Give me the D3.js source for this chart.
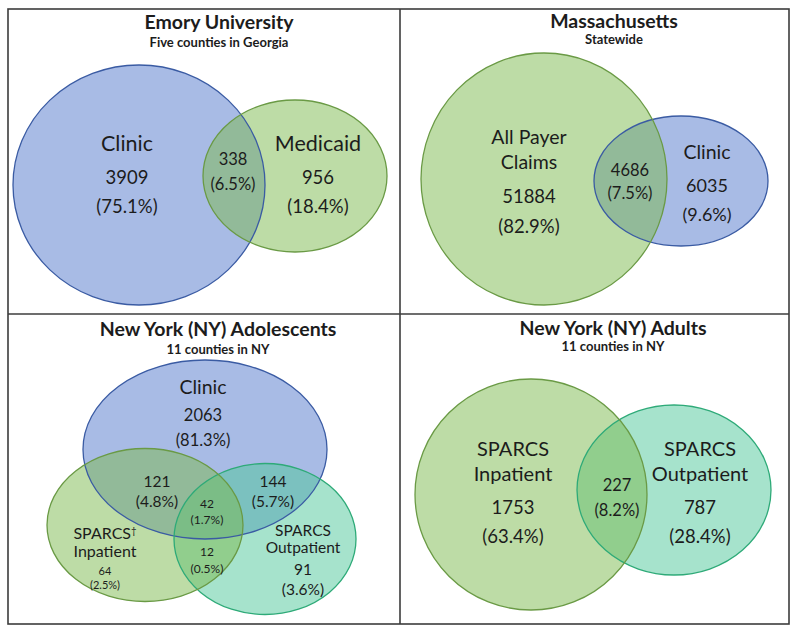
<!DOCTYPE html>
<html>
<head>
<meta charset="utf-8">
<script src="https://cdn.jsdelivr.net/npm/d3@7"></script>
<style>
  html, body { margin: 0; padding: 0; background: #fff; }
  svg { display: block; }
  text { font-family: Lato, "Open Sans", sans-serif; fill: #1c1c1c; }
</style>
</head>
<body>
<svg id="chart" width="800" height="634"></svg>
<script>
// ---------------- DATA ----------------
const panelTitles = ["Emory University", "Massachusetts", "New York (NY) Adolescents", "New York (NY) Adults"];
const panelSubtitles = ["Five counties in Georgia", "Statewide", "11 counties in NY", "11 counties in NY"];

// set names (label lines) per panel
const emorySets = [["Clinic"], ["Medicaid"]];
const massSets = [["All Payer", "Claims"], ["Clinic"]];
const nyAdolSets = [["Clinic"], ["SPARCS†", "Inpatient"], ["SPARCS", "Outpatient"]];
const nyAdultSets = [["SPARCS", "Inpatient"], ["SPARCS", "Outpatient"]];

// regions: which sets each region belongs to
const emoryRegions = [[0], [0, 1], [1]];
const emoryCounts = [3909, 338, 956];
const emoryPercents = [75.1, 6.5, 18.4];

const massRegions = [[0], [0, 1], [1]];
const massCounts = [51884, 4686, 6035];
const massPercents = [82.9, 7.5, 9.6];

const nyAdolRegions = [[0], [0, 1], [0, 2], [0, 1, 2], [1, 2], [1], [2]];
const nyAdolCounts = [2063, 121, 144, 42, 12, 64, 91];
const nyAdolPercents = [81.3, 4.8, 5.7, 1.7, 0.5, 2.5, 3.6];

const nyAdultRegions = [[0], [0, 1], [1]];
const nyAdultCounts = [1753, 227, 787];
const nyAdultPercents = [63.4, 8.2, 28.4];

// ---------------- STYLE / LAYOUT ----------------
const palette = {
  blue:  { fill: "#5177cb", stroke: "#3a5ba3" },
  green: { fill: "#7bb94d", stroke: "#6a9a45" },
  teal:  { fill: "#4dc799", stroke: "#2eaa78" }
};

const panelBoxes = [
  { x: 8,   y: 9,   w: 392, h: 305 },
  { x: 400, y: 9,   w: 389, h: 305 },
  { x: 8,   y: 314, w: 392, h: 310 },
  { x: 400, y: 314, w: 389, h: 310 }
];

// ellipse geometry & label placement in panel-local units
const layouts = [
  {
    sets: emorySets, regions: emoryRegions, counts: emoryCounts, pcts: emoryPercents,
    title: { x: 211, y: 13, size: 19.5 }, sub: { y: 33, size: 13 },
    ellipses: [
      { set: 0, cx: 131, cy: 176, rx: 126, ry: 120, color: "blue", order: 0 },
      { set: 1, cx: 287, cy: 167, rx: 92,  ry: 76,  color: "green", order: 1 }
    ],
    labels: [
      { x: 119, lines: [[134, 21.5], [169, 18.5], [198, 18.5]] },
      { x: 225, lines: [[150, 16.5], [175, 16.5]] },
      { x: 310, lines: [[134, 21.5], [169, 18.5], [198, 18.5]] }
    ]
  },
  {
    sets: massSets, regions: massRegions, counts: massCounts, pcts: massPercents,
    title: { x: 214, y: 12, size: 19.5 }, sub: { y: 30, size: 13 },
    ellipses: [
      { set: 0, cx: 144, cy: 170, rx: 123, ry: 126, color: "green", order: 1 },
      { set: 1, cx: 281, cy: 172, rx: 87,  ry: 65,  color: "blue", order: 0 }
    ],
    labels: [
      { x: 129, lines: [[128, 19.5], [153, 19.5], [188, 18.5], [218, 18.5]] },
      { x: 230, lines: [[161, 16.5], [184, 16.5]] },
      { x: 307, lines: [[143, 19.5], [177, 18], [206, 18]] }
    ]
  },
  {
    sets: nyAdolSets, regions: nyAdolRegions, counts: nyAdolCounts, pcts: nyAdolPercents,
    title: { x: 210, y: 15, size: 19.5 }, sub: { y: 35, size: 13 },
    ellipses: [
      { set: 0, cx: 197, cy: 135.5, rx: 122, ry: 89.5, color: "blue", order: 0 },
      { set: 1, cx: 137, cy: 211,   rx: 98,  ry: 76.5, color: "green", order: 2 },
      { set: 2, cx: 257, cy: 225,   rx: 91,  ry: 75.5, color: "teal", order: 1 }
    ],
    labels: [
      { x: 195, lines: [[73, 19.5], [101, 16.5], [126, 16.5]] },
      { x: 149, lines: [[168, 15.5], [188, 15.5]] },
      { x: 265, lines: [[168, 15.5], [188, 15.5]] },
      { x: 199, lines: [[190, 12], [206, 12]] },
      { x: 199, lines: [[238, 12], [255, 12]] },
      { x: 97,  lines: [[219, 16], [237, 16], [257, 11], [271, 11]] },
      { x: 295, lines: [[217, 15.5], [234, 15.5], [256, 15.5], [276, 15.5]] }
    ]
  },
  {
    sets: nyAdultSets, regions: nyAdultRegions, counts: nyAdultCounts, pcts: nyAdultPercents,
    title: { x: 213, y: 14, size: 19.5 }, sub: { y: 32, size: 13 },
    ellipses: [
      { set: 0, cx: 131, cy: 180.5, rx: 116, ry: 115.5, color: "green", order: 1 },
      { set: 1, cx: 274, cy: 176,   rx: 97,  ry: 85,    color: "teal", order: 0 }
    ],
    labels: [
      { x: 113, lines: [[135, 20], [160, 20], [194, 18.5], [223, 18.5]] },
      { x: 217, lines: [[171, 16.5], [196, 16.5]] },
      { x: 300, lines: [[135, 20], [160, 20], [194, 18.5], [223, 18.5]] }
    ]
  }
];

// ---------------- DRAW ----------------
const svg = d3.select("#chart");
svg.append("rect").attr("width", 800).attr("height", 634).attr("fill", "#fff");

layouts.forEach((L, pi) => {
  const box = panelBoxes[pi];
  const x = d3.scaleLinear().domain([0, box.w]).range([box.x, box.x + box.w]);
  const y = d3.scaleLinear().domain([0, box.h]).range([box.y, box.y + box.h]);
  const g = svg.append("g").attr("class", "panel");

  const ells = L.ellipses.slice().sort((a, b) => a.order - b.order);
  // fills
  g.selectAll("ellipse.fill").data(ells).join("ellipse")
    .attr("class", "fill")
    .attr("cx", d => x(d.cx)).attr("cy", d => y(d.cy))
    .attr("rx", d => x(d.rx) - x(0)).attr("ry", d => y(d.ry) - y(0))
    .attr("fill", d => palette[d.color].fill)
    .attr("fill-opacity", 0.5);
  // outlines
  g.selectAll("ellipse.outline").data(ells).join("ellipse")
    .attr("class", "outline")
    .attr("cx", d => x(d.cx)).attr("cy", d => y(d.cy))
    .attr("rx", d => x(d.rx) - x(0)).attr("ry", d => y(d.ry) - y(0))
    .attr("fill", "none")
    .attr("stroke", d => palette[d.color].stroke)
    .attr("stroke-width", 1.3);

  // titles
  g.append("text").attr("x", x(L.title.x)).attr("y", y(L.title.y)).attr("dy", "0.35em")
    .attr("text-anchor", "middle").attr("font-weight", 700)
    .style("font-size", L.title.size + "px").text(panelTitles[pi]);
  g.append("text").attr("x", x(L.title.x)).attr("y", y(L.sub.y)).attr("dy", "0.35em")
    .attr("text-anchor", "middle").attr("font-weight", 700)
    .style("font-size", L.sub.size + "px").text(panelSubtitles[pi]);

  // region labels
  L.regions.forEach((sets, ri) => {
    const lines = [];
    if (sets.length === 1) L.sets[sets[0]].forEach(s => lines.push(s));
    lines.push(String(L.counts[ri]));
    lines.push("(" + L.pcts[ri].toFixed(1) + "%)");
    const lab = L.labels[ri];
    lines.forEach((txt, li) => {
      const [ly, fs] = lab.lines[li];
      const t = g.append("text").attr("x", x(lab.x)).attr("y", y(ly)).attr("dy", "0.35em")
        .attr("text-anchor", "middle").style("font-size", fs + "px");
      if (txt.includes("†")) {
        const parts = txt.split("†");
        t.append("tspan").text(parts[0]);
        t.append("tspan").attr("baseline-shift", "super").style("font-size", (fs * 0.6) + "px").text("†");
      } else {
        t.text(txt);
      }
    });
  });
});

// panel borders
const bx = d3.extent(panelBoxes.flatMap(b => [b.x, b.x + b.w]));
const by = d3.extent(panelBoxes.flatMap(b => [b.y, b.y + b.h]));
const borders = svg.append("g").attr("stroke", "#3c3c3c").attr("stroke-width", 1.6).attr("fill", "none");
borders.append("rect").attr("x", bx[0]).attr("y", by[0]).attr("width", bx[1] - bx[0]).attr("height", by[1] - by[0]);
borders.append("line").attr("x1", panelBoxes[1].x).attr("x2", panelBoxes[1].x).attr("y1", by[0]).attr("y2", by[1]);
borders.append("line").attr("x1", bx[0]).attr("x2", bx[1]).attr("y1", panelBoxes[2].y).attr("y2", panelBoxes[2].y);
</script>
</body>
</html>
